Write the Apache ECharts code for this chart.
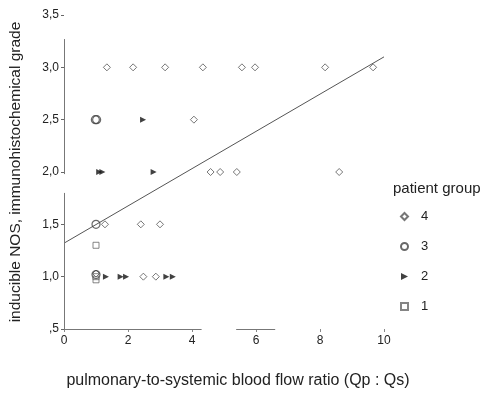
<!DOCTYPE html>
<html>
<head>
<meta charset="utf-8">
<script src="https://cdn.jsdelivr.net/npm/echarts@6/dist/echarts.min.js"></script>
<style>
  html, body { margin: 0; padding: 0; background: #fff; }
  #chart { width: 484px; height: 394px; }
</style>
</head>
<body>
<div id="chart"></div>
<script>
// values, [flow ratio, grade]
const group4 = [
  [1.34, 3.0], [2.16, 3.0], [3.16, 3.0], [4.34, 3.0], [5.56, 3.0], [5.97, 3.0], [8.16, 3.0], [9.66, 3.0],
  [4.06, 2.5],
  [4.58, 2.0], [4.88, 2.0], [5.4, 2.0], [8.6, 2.0],
  [1.28, 1.5], [2.4, 1.5], [3.0, 1.5],
  [1.0, 1.03], [2.48, 1.0], [2.87, 1.0]
];
const group3 = [[0.98, 2.5], [1.02, 2.5], [1.0, 1.5], [1.0, 1.02]];
const group2 = [
  [2.47, 2.5],
  [1.1, 2.0], [1.2, 2.0], [2.8, 2.0],
  [1.31, 1.0], [1.77, 1.0], [1.94, 1.0], [3.2, 1.0], [3.4, 1.0]
];
const group1 = [[1.0, 1.3], [1.0, 1.0], [1.0, 0.97]];
const fitLine = [[0, 1.32], [10, 3.1]];
const xTicks = [0, 2, 4, 6, 8, 10];
const yTicks = [0.5, 1.0, 1.5, 2.0, 2.5, 3.0, 3.5];

const chart = echarts.init(document.getElementById("chart"));
const font = "Liberation Sans, Arial, sans-serif";

const yLabel = (v) => {
  const s = v.toFixed(1).replace(".", ",");
  return s.startsWith("0") ? s.slice(1) : s;
};

const seg = (a, b) => [{ coord: a }, { coord: b }];
const rightTri = "path://M0,0 L10,5 L0,10 Z";

chart.setOption({
  animation: false,
  backgroundColor: "#fff",
  title: {
    text: "patient group",
    left: 388,
    top: 176,
    textStyle: { fontFamily: font, fontSize: 15, fontWeight: "normal", color: "#222" }
  },
  legend: {
    orient: "vertical",
    left: 395,
    top: 205,
    itemGap: 17,
    itemWidth: 7,
    itemHeight: 7,
    data: [
      { name: "4" },
      { name: "3" },
      { name: "2", icon: rightTri },
      { name: "1" }
    ],
    textStyle: { fontFamily: font, fontSize: 13, color: "#222", padding: [0, 0, 0, 8] }
  },
  grid: { left: 64, right: 100, top: 15, bottom: 58 },
  xAxis: {
    type: "value",
    min: 0,
    max: 10,
    interval: 2,
    name: "pulmonary-to-systemic blood flow ratio (Qp : Qs)",
    nameLocation: "middle",
    nameGap: 44,
    nameTextStyle: { fontFamily: font, fontSize: 16, color: "#222", padding: [0, 0, 0, 28] },
    axisLine: { show: false },
    axisTick: { show: true, length: 3, lineStyle: { color: "#888" } },
    splitLine: { show: false },
    axisLabel: {
      fontFamily: font, fontSize: 12, color: "#222", margin: 6,
      formatter: (v) => (xTicks.includes(v) ? String(v) : "")
    }
  },
  yAxis: {
    type: "value",
    min: 0.5,
    max: 3.5,
    interval: 0.5,
    name: "inducible NOS, immunohistochemical grade",
    nameLocation: "middle",
    nameGap: 40,
    nameTextStyle: { fontFamily: font, fontSize: 15.5, color: "#222" },
    axisLine: { show: false },
    axisTick: { show: true, length: 3, lineStyle: { color: "#666" } },
    splitLine: { show: false },
    axisLabel: {
      fontFamily: font, fontSize: 12, color: "#222", margin: 5,
      formatter: (v) => (yTicks.some((t) => Math.abs(t - v) < 1e-6) ? yLabel(v) : "")
    }
  },
  series: [
    {
      name: "4",
      type: "scatter",
      symbol: "diamond",
      symbolSize: 7,
      itemStyle: { color: "#fff", borderColor: "#555", borderWidth: 1 },
      data: group4,
      z: 3
    },
    {
      name: "3",
      type: "scatter",
      symbol: "circle",
      symbolSize: 8,
      itemStyle: { color: "rgba(255,255,255,0)", borderColor: "#444", borderWidth: 1.2 },
      data: group3,
      z: 3
    },
    {
      name: "2",
      type: "scatter",
      symbol: "triangle",
      symbolRotate: -90,
      symbolSize: 6,
      itemStyle: { color: "#111" },
      data: group2,
      z: 3
    },
    {
      name: "1",
      type: "scatter",
      symbol: "rect",
      symbolSize: 6,
      itemStyle: { color: "rgba(255,255,255,0)", borderColor: "#666", borderWidth: 1 },
      data: group1,
      z: 3
    },
    {
      name: "fit",
      type: "line",
      data: fitLine,
      symbol: "none",
      lineStyle: { color: "#555", width: 1 },
      z: 2,
      // broken axis lines of the scanned original
      markLine: {
        symbol: "none",
        silent: true,
        label: { show: false },
        lineStyle: { type: "solid", color: "#777", width: 1 },
        data: [
          seg([0, 0.5], [0, 1.8]),
          seg([0, 1.98], [0, 3.27]),
          seg([0, 0.5], [4.3, 0.5]),
          seg([5.38, 0.5], [6.6, 0.5])
        ]
      }
    }
  ]
});
</script>
</body>
</html>
